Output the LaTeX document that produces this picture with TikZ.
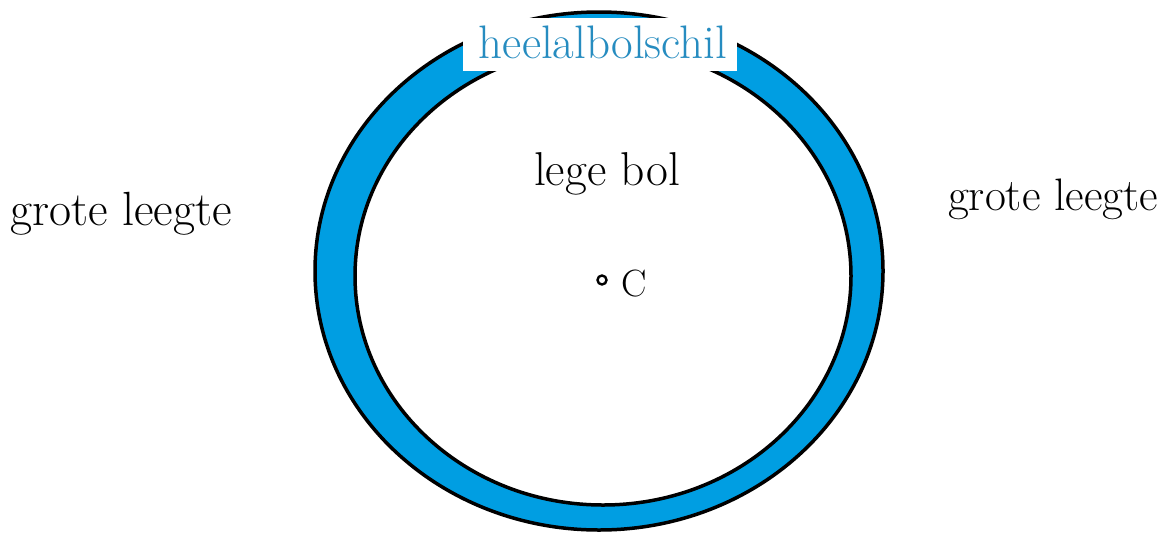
\documentclass[tikz,border=0pt]{standalone}
\definecolor{ringblue}{RGB}{0,158,226}
\definecolor{labelblue}{RGB}{38,140,192}
\tikzset{
  rimline/.style={draw=black, line width=3.5pt},
  bigtext/.style={text=black, inner sep=0pt, anchor=base},
}
\begin{document}
\begin{tikzpicture}[x=1pt,y=-1pt]
\useasboundingbox (0,0) rectangle (1166,533);
% ring
\fill[ringblue, even odd rule] (599,271) ellipse [x radius=284pt, y radius=259pt]
  (603,276) ellipse [x radius=248pt, y radius=229pt];
\draw[rimline] (599,271) ellipse [x radius=284pt, y radius=259pt];
\draw[rimline] (603,276) ellipse [x radius=248pt, y radius=229pt];
% label box
\node[fill=white, inner sep=0pt, minimum width=274pt, minimum height=53pt, anchor=north west] (box) at (463,18) {};
\node[text=labelblue, inner sep=0pt, anchor=base, font=\fontsize{47}{56}\selectfont] (lbl) at (603,58) {heelalbolschil};
% texts
\node[bigtext, font=\fontsize{48}{58}\selectfont] (left) at (121,225) {grote leegte};
\node[bigtext, font=\fontsize{45.5}{54}\selectfont] (right) at (1053,210) {grote leegte};
\node[bigtext, font=\fontsize{47.5}{57}\selectfont] (lege) at (607,185) {lege bol};
% centre
\node[circle, draw=black, fill=white, line width=2.4pt, inner sep=0pt, minimum size=9pt] (dot) at (602,280) {};
\node[bigtext, font=\fontsize{38}{46}\selectfont, anchor=base west] (c) at (621,296) {C};
\end{tikzpicture}
\end{document}
